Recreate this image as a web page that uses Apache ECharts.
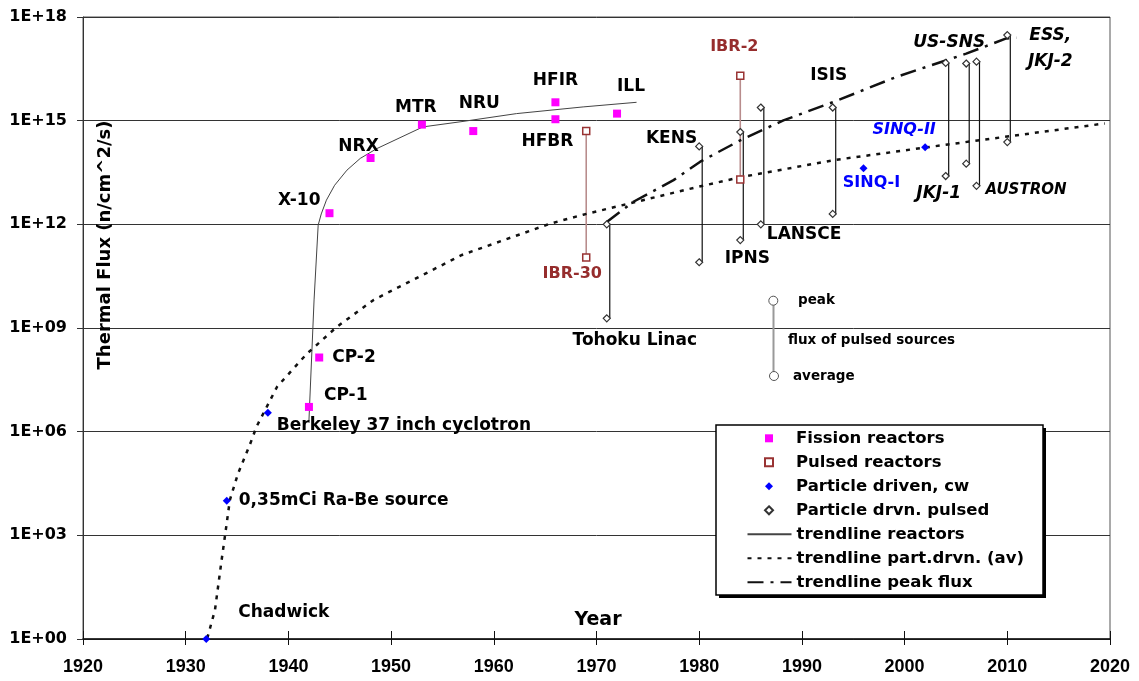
<!DOCTYPE html>
<html><head><meta charset="utf-8">
<script src="https://cdn.jsdelivr.net/npm/echarts@6/dist/echarts.min.js"></script>
<style>html,body{margin:0;padding:0;background:#fff}#c{width:1139px;height:681px}</style>
</head><body><div id="c"></div><script>
// ---------- data ----------
const fissionNames = ['CP-1','CP-2','X-10','NRX','MTR','NRU','HFIR','HFBR','ILL'];
const fissionYears = [1942, 1943, 1944, 1948, 1953, 1958, 1966, 1966, 1972];
const fissionFlux  = [5.2e6, 1.4e8, 2.1e12, 8.3e13, 7.7e14, 5e14, 3.4e15, 1.1e15, 1.6e15];

const pulsedReactorNames = ['IBR-30','IBR-2'];
const pulsedReactorYears = [1969, 1984];
const pulsedReactorPeak  = [5e14, 2e16];
const pulsedReactorAvg   = [1.1e11, 2e13];

const cwNames = ['Chadwick','0,35mCi Ra-Be source','Berkeley 37 inch cyclotron','SINQ-I','SINQ-II'];
const cwYears = [1932, 1934, 1938, 1996, 2002];
const cwFlux  = [1, 1e4, 3.5e6, 4.2e13, 1.7e14];

const pulsedNames = ['Tohoku Linac','KENS','IPNS','LANSCE','ISIS','JKJ-1','US-SNS','AUSTRON','ESS,\nJKJ-2'];
const pulsedYears = [1971, 1980, 1984, 1986, 1993, 2004, 2006, 2007, 2010];
const pulsedPeak  = [1e12, 1.8e14, 4.7e14, 2.4e15, 2.4e15, 4.7e16, 4.5e16, 5.1e16, 3e17];
const pulsedAvg   = [1.9e9, 8e10, 3.5e11, 1e12, 2e12, 2.5e13, 5.7e13, 1.3e13, 2.4e14];

const trendReactorYears = [1942.0, 1942.5, 1942.9, 1943.2, 1943.7, 1944.5, 1945.7, 1947.0, 1948.6, 1953.1, 1957.0, 1962.2, 1968.7, 1973.9];
const trendReactorFlux  = [2.1e6, 6.5e9, 9.5e11, 2.0e12, 5.0e12, 1.35e13, 3.7e13, 8.1e13, 1.55e14, 6.6e14, 9.5e14, 1.6e15, 2.5e15, 3.4e15];

const trendPartYears = [1932.1, 1932.85, 1933.5, 1933.9, 1934.3, 1935.1, 1936.3, 1936.9, 1938.9, 1941.8, 1944.7, 1948.3, 1956.9, 1965.5, 1968.7, 1979.8, 1984.0, 1993.1, 2002.2, 2019.5];
const trendPartFlux  = [1.05, 6.9, 195, 1.4e3, 1.05e4, 6.2e4, 4.6e5, 1.4e6, 2.0e7, 1.8e8, 1.07e9, 6.5e9, 1.3e11, 1.05e12, 1.9e12, 1.2e13, 2.3e13, 7.2e13, 1.7e14, 8.3e14];

const trendPeakYears = [1971.0, 1973.6, 1977.5, 1980.1, 1984.0, 1988.2, 1993.1, 1999.2, 2006.0, 2009.9, 2010.9];
const trendPeakFlux  = [1.17e12, 4.5e12, 1.9e13, 6.5e13, 2.7e14, 1.02e15, 3.5e15, 1.85e16, 8.7e16, 2.4e17, 2.5e17];

const xTicks = {min: 1920, max: 2020, step: 10};
const yTicks = {min: 1, max: 1e18, stepDecades: 3};

const legendNames = ['Fission reactors','Pulsed reactors','Particle driven, cw','Particle drvn. pulsed',
  'trendline reactors','trendline part.drvn. (av)','trendline peak flux'];

// ---------- label placement (styling, not data) ----------
const FF = 'DejaVu Sans';
const labelCfg = {
  'Chadwick': {align:'left', off:[32,-26]},
  '0,35mCi Ra-Be source': {align:'left', off:[12,0]},
  'Berkeley 37 inch cyclotron': {align:'left', off:[9,13]},
  'CP-1': {align:'left', off:[15,-11]},
  'CP-2': {align:'left', off:[13,0]},
  'X-10': {align:'right', off:[-9,-13]},
  'NRX': {align:'center', off:[-12,-11]},
  'MTR': {align:'center', off:[-6,-17]},
  'NRU': {align:'center', off:[6,-27]},
  'HFIR': {align:'center', off:[0,-22]},
  'HFBR': {align:'center', off:[-8,22]},
  'ILL': {align:'center', off:[14,-27]},
  'IBR-2': {on:'peak', align:'center', off:[-6,-29], color:'#962d2d', size:16},
  'IBR-30': {on:'avg', align:'center', off:[-14,16], color:'#962d2d', size:16},
  'Tohoku Linac': {on:'avg', align:'center', off:[28,22]},
  'KENS': {on:'peak', align:'right', off:[-2,-8]},
  'IPNS': {on:'avg', align:'center', off:[7,18]},
  'LANSCE': {on:'avg', align:'left', off:[6,10]},
  'ISIS': {on:'peak', align:'center', off:[-4,-32]},
  'SINQ-II': {align:'center', off:[-21,-17], color:'#0000ff', italic:true, size:16},
  'SINQ-I': {align:'center', off:[8,15], color:'#0000ff', size:16},
  'US-SNS': {on:'peak', align:'center', off:[-17,-21], italic:true},
  'JKJ-1': {on:'avg', align:'center', off:[-7,18], italic:true},
  'AUSTRON': {on:'avg', align:'left', off:[9,4], italic:true, size:15},
  'ESS,\nJKJ-2': {on:'peak', align:'center', off:[43,14], italic:true, lineHeight:26}
};
function labelFor(name, which) {
  const c = labelCfg[name];
  if (!c) return undefined;
  if (c.on && which && c.on !== which) return undefined;
  return {
    show: true, formatter: name, position: ['50%','50%'], align: c.align, verticalAlign: 'middle',
    offset: c.off, fontFamily: FF, fontWeight: 'bold', fontStyle: c.italic ? 'italic' : 'normal',
    fontSize: c.size || 17, color: c.color || '#000', lineHeight: c.lineHeight || 20,
    textBorderWidth: 0
  };
}

// ---------- build series data ----------
const fissionData = fissionNames.map((n,i)=>({name:n, value:[fissionYears[i], fissionFlux[i]], label: labelFor(n)}));
const cwData = cwNames.map((n,i)=>({name:n, value:[cwYears[i], cwFlux[i]], label: labelFor(n)}));
const prData = [];
pulsedReactorNames.forEach((n,i)=>{
  prData.push({name:n, value:[pulsedReactorYears[i], pulsedReactorPeak[i]], label: labelFor(n,'peak')});
  prData.push({name:n, value:[pulsedReactorYears[i], pulsedReactorAvg[i]], label: labelFor(n,'avg')});
});
const ppData = [];
pulsedNames.forEach((n,i)=>{
  ppData.push({name:n, value:[pulsedYears[i], pulsedPeak[i]], label: labelFor(n,'peak')});
  ppData.push({name:n, value:[pulsedYears[i], pulsedAvg[i]], label: labelFor(n,'avg')});
});
const prLines = pulsedReactorNames.map((n,i)=>[pulsedReactorYears[i], pulsedReactorPeak[i], pulsedReactorAvg[i]]);
const ppLines = pulsedNames.map((n,i)=>[pulsedYears[i], pulsedPeak[i], pulsedAvg[i]]);
const zip = (a,b)=>a.map((v,i)=>[v,b[i]]);

function vline(offset, color, width) {
  return function(params, api) {
    const x = api.value(0);
    const p1 = api.coord([x, api.value(1)]);
    const p2 = api.coord([x, api.value(2)]);
    return {type:'line', shape:{x1:p1[0]+offset, y1:p1[1], x2:p2[0]+offset, y2:p2[1]},
            style:{stroke:color, lineWidth:width}};
  };
}

const chart = echarts.init(document.getElementById('c'), null, {renderer:'canvas'});
const expo = v => { const e = Math.round(Math.log10(v)); return '1E+' + (e<10?'0':'') + e; };

const xBase = {type:'value', min:xTicks.min, max:xTicks.max, interval:xTicks.step, splitLine:{show:false}};
const trendCommon = {symbol:'none', showSymbol:false, smooth:false, z:3, silent:true,
  itemStyle:{color:'rgba(0,0,0,0)', opacity:0}};
chart.setOption({
  animation: false,
  backgroundColor: '#fff',
  grid: {left:83, top:17, width:1027, height:622, show:true, borderColor:'#555', borderWidth:1, backgroundColor:'transparent'},
  xAxis: [
    Object.assign({}, xBase, {
      position:'bottom',
      axisLine:{show:true, onZero:false, lineStyle:{color:'#111', width:1.5}},
      axisTick:{show:true, inside:false, length:6, lineStyle:{color:'#111'}},
      axisLabel:{margin:19, formatter: v => String(v), fontFamily:'Liberation Sans', fontWeight:'bold', fontSize:18, color:'#000'}
    }),
    Object.assign({}, xBase, {
      position:'bottom',
      axisLine:{show:false},
      axisTick:{show:true, inside:true, length:8, lineStyle:{color:'#111'}},
      axisLabel:{show:false}
    })
  ],
  yAxis: {
    type:'log', logBase:10, min:yTicks.min, max:yTicks.max, interval:yTicks.stepDecades, splitNumber:6,
    axisLine:{show:true, lineStyle:{color:'#333', width:1}},
    axisTick:{show:true, length:6, lineStyle:{color:'#333'}},
    minorTick:{show:false}, minorSplitLine:{show:false},
    splitLine:{show:true, lineStyle:{color:'#333', width:1}},
    axisLabel:{margin:16, formatter: expo, fontFamily:FF, fontWeight:'bold', fontSize:16, color:'#000'}
  },
  legend: [
    {data: legendNames.slice(0,4), orient:'vertical', left:764, top:429.3, padding:0,
     itemWidth:8, itemHeight:8, itemGap:6, selectedMode:false, z:11,
     textStyle:{fontFamily:FF, fontWeight:'bold', fontSize:16.5, color:'#000', lineHeight:18, padding:[0,0,0,18]}},
    {data: legendNames.slice(4), orient:'vertical', left:746.5, top:525.3, padding:0,
     itemWidth:44, itemHeight:8, itemGap:6, selectedMode:false, z:11,
     itemStyle:{opacity:0, color:'rgba(0,0,0,0)', borderWidth:0},
     textStyle:{fontFamily:FF, fontWeight:'bold', fontSize:16.5, color:'#000', lineHeight:18}}
  ],
  series: [
    {type:'custom', name:'pr-lines', data:prLines, renderItem:vline(0,'#b88c8c',1.6), encode:{x:0, y:[1,2]}, z:2, silent:true},
    {type:'custom', name:'pp-lines', data:ppLines, renderItem:vline(3,'#111',1.2), encode:{x:0, y:[1,2]}, z:2, silent:true},
    Object.assign({type:'line', name:'trendline reactors', data:zip(trendReactorYears,trendReactorFlux),
      lineStyle:{color:'#444', width:1}}, trendCommon),
    Object.assign({type:'line', name:'trendline part.drvn. (av)', data:zip(trendPartYears,trendPartFlux),
      lineStyle:{color:'#111', width:2.5, type:[4,6]}}, trendCommon),
    Object.assign({type:'line', name:'trendline peak flux', data:zip(trendPeakYears,trendPeakFlux),
      lineStyle:{color:'#111', width:2.5, type:[16,7,3,7]}}, trendCommon),
    {type:'scatter', name:'Fission reactors', data:fissionData, symbol:'rect', symbolSize:8,
     itemStyle:{color:'#ff00ff', opacity:1}, z:5, silent:true},
    {type:'scatter', name:'Pulsed reactors', data:prData, symbol:'rect', symbolSize:7,
     itemStyle:{color:'#ffffff', borderColor:'#993333', borderWidth:1.5, opacity:1}, z:5, silent:true},
    {type:'scatter', name:'Particle driven, cw', data:cwData, symbol:'diamond', symbolSize:8,
     itemStyle:{color:'#0000ff', opacity:1}, z:5, silent:true},
    {type:'scatter', name:'Particle drvn. pulsed', data:ppData, symbol:'diamond', symbolSize:7,
     itemStyle:{color:'#ffffff', borderColor:'#333', borderWidth:1.2, opacity:1}, z:5, silent:true}
  ],
  graphic: [
    {type:'rect', z:10, shape:{x:719, y:428, width:327, height:170}, style:{fill:'#000'}},
    {type:'rect', z:10, shape:{x:716, y:425, width:327, height:170}, style:{fill:'#fff', stroke:'#000', lineWidth:1.5}},
    {type:'text', z:6, x:105, y:245, rotation:Math.PI/2,
     style:{text:'Thermal Flux (n/cm^2/s)', fill:'#000', fontFamily:FF, fontWeight:'bold', fontSize:18, align:'center', verticalAlign:'middle'}},
    {type:'text', z:6, x:598, y:620,
     style:{text:'Year', fill:'#000', fontFamily:FF, fontWeight:'bold', fontSize:19, align:'center', verticalAlign:'middle'}},
    {type:'line', z:6, shape:{x1:773.5, y1:305, x2:773.5, y2:372}, style:{stroke:'#999', lineWidth:2}},
    {type:'circle', z:7, shape:{cx:773.3, cy:300.7, r:4.5}, style:{fill:'#fff', stroke:'#555', lineWidth:1}},
    {type:'circle', z:7, shape:{cx:774, cy:376, r:4.5}, style:{fill:'#fff', stroke:'#555', lineWidth:1}},
    {type:'text', z:7, x:798, y:300.7, style:{text:'peak', fill:'#000', fontFamily:FF, fontWeight:'bold', fontSize:13.5, verticalAlign:'middle'}},
    {type:'text', z:7, x:788, y:340.7, style:{text:'flux of pulsed sources', fill:'#000', fontFamily:FF, fontWeight:'bold', fontSize:13.5, verticalAlign:'middle'}},
    {type:'text', z:7, x:793, y:376.7, style:{text:'average', fill:'#000', fontFamily:FF, fontWeight:'bold', fontSize:13.5, verticalAlign:'middle'}}
  ]
});
</script></body></html>
